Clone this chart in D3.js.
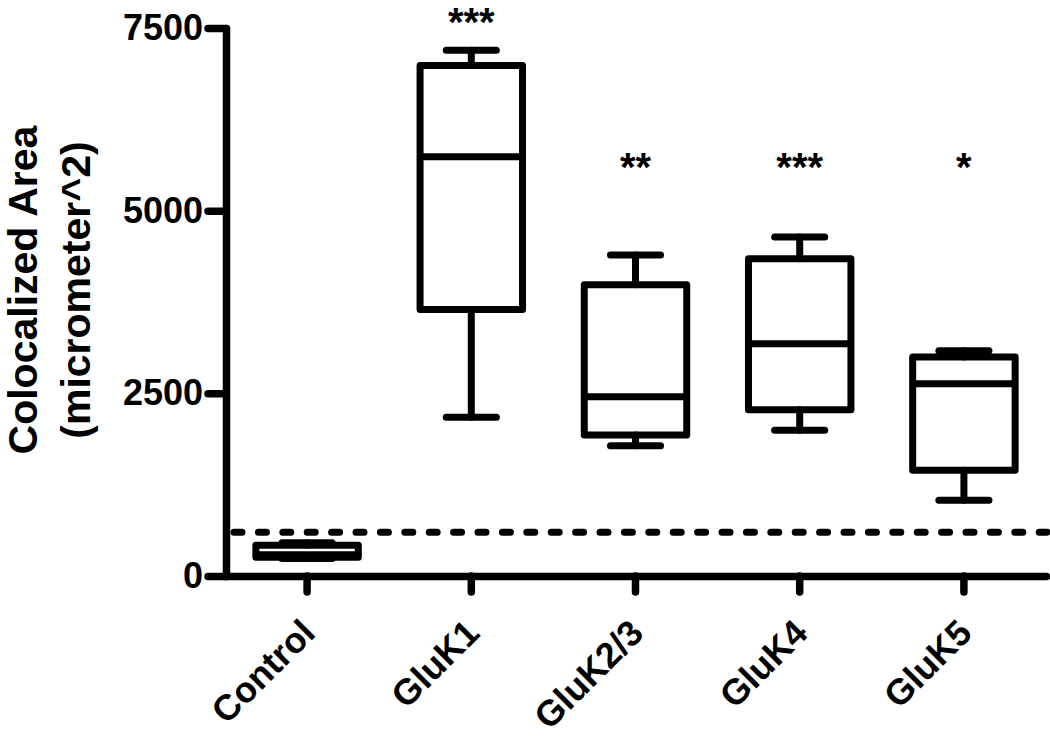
<!DOCTYPE html>
<meta charset="utf-8">
<head>
    <title>Colocalized area box plot</title>
    <script src="https://d3js.org/d3.v7.min.js"></script>
</head>

<style>
body { margin: 0; background: #fff; }
svg { font-family: Arial, "Liberation Sans", sans-serif; font-weight: bold; }
.axis path, .axis line { stroke: #000; stroke-width: 7.5; stroke-linecap: round; stroke-linejoin: round; }
.axis text { fill: #000; font-size: 36px; font-weight: bold; }
.box { fill: none; stroke: #000; stroke-width: 7; stroke-linejoin: round; }
.whisker { stroke: #000; stroke-width: 7; stroke-linecap: round; }
</style>

<body>

<svg></svg>

<script>

// groups and five-number summaries
let categories = ["Control", "GluK1", "GluK2/3", "GluK4", "GluK5"];
let minVals    = [240, 2172, 1782, 1994, 1036];
let q1Vals     = [257, 3647, 1930, 2276, 1446];
let medVals    = [290, 5739, 2454, 3178, 2630];
let q3Vals     = [421, 6986, 3987, 4343, 2997];
let maxVals    = [455, 7194, 4393, 4639, 3084];

// significance marks and the level (in data units) they sit at
let sigLabels = ["", "***", "**", "***", "*"];
let sigLevel  = [0, 7390, 5410, 5410, 5410];

let yTicks = [0, 2500, 5000, 7500];
let threshold = 600;

let width = 1050, height = 736;

let svg = d3.select("svg")
    .attr("width", width)
    .attr("height", height);

let x = d3.scaleBand()
    .domain(categories)
    .range([225, 1046])
    .padding(0);

let y = d3.scaleLinear()
    .domain([0, 7500])
    .range([576, 28]);

let bw = x.bandwidth();
let boxW = bw * 0.624;
let capW = bw * 0.305;
let cx = function(i) { return x(categories[i]) + bw / 2; };

let data = categories.map(function(c, i) {
  return {name: c, min: minVals[i], q1: q1Vals[i], med: medVals[i], q3: q3Vals[i], max: maxVals[i], i: i};
});

// dashed threshold line
svg.append("line")
    .attr("x1", 234)
    .attr("x2", 1047)
    .attr("y1", y(threshold))
    .attr("y2", y(threshold))
    .attr("stroke", "#000")
    .attr("stroke-width", 7)
    .attr("stroke-linecap", "round")
    .attr("stroke-dasharray", "8 16.4");

let g = svg.selectAll(".group")
    .data(data)
    .enter()
    .append("g")
    .attr("class", "group");

// whiskers
g.append("line").attr("class", "whisker")
    .attr("x1", function(d) { return cx(d.i); })
    .attr("x2", function(d) { return cx(d.i); })
    .attr("y1", function(d) { return y(d.q3); })
    .attr("y2", function(d) { return y(d.max); });
g.append("line").attr("class", "whisker")
    .attr("x1", function(d) { return cx(d.i); })
    .attr("x2", function(d) { return cx(d.i); })
    .attr("y1", function(d) { return y(d.q1); })
    .attr("y2", function(d) { return y(d.min); });
g.append("line").attr("class", "whisker")
    .attr("x1", function(d) { return cx(d.i) - capW / 2; })
    .attr("x2", function(d) { return cx(d.i) + capW / 2; })
    .attr("y1", function(d) { return y(d.max); })
    .attr("y2", function(d) { return y(d.max); });
g.append("line").attr("class", "whisker")
    .attr("x1", function(d) { return cx(d.i) - capW / 2; })
    .attr("x2", function(d) { return cx(d.i) + capW / 2; })
    .attr("y1", function(d) { return y(d.min); })
    .attr("y2", function(d) { return y(d.min); });

// boxes
g.append("rect").attr("class", "box")
    .attr("x", function(d) { return cx(d.i) - boxW / 2; })
    .attr("width", boxW)
    .attr("y", function(d) { return y(d.q3); })
    .attr("height", function(d) { return y(d.q1) - y(d.q3); });

// medians
g.append("line")
    .attr("stroke", "#000")
    .attr("stroke-width", 7)
    .attr("x1", function(d) { return cx(d.i) - boxW / 2; })
    .attr("x2", function(d) { return cx(d.i) + boxW / 2; })
    .attr("y1", function(d) { return y(d.med); })
    .attr("y2", function(d) { return y(d.med); });

// significance stars
g.append("text")
    .attr("x", function(d) { return cx(d.i); })
    .attr("y", function(d) { return y(sigLevel[d.i]); })
    .attr("text-anchor", "middle")
    .attr("font-size", "40px")
    .attr("fill", "#000")
    .text(function(d) { return sigLabels[d.i]; });

// y axis
svg.append("g")
    .attr("class", "axis")
    .attr("transform", "translate(226,0)")
    .call(d3.axisLeft(y).tickValues(yTicks).tickSize(18).tickSizeOuter(0).tickPadding(5).tickFormat(d3.format("d")));

// x axis
let xAxis = svg.append("g")
    .attr("class", "axis")
    .attr("transform", "translate(0,576)")
    .call(d3.axisBottom(x).tickSize(16).tickSizeOuter(0));

xAxis.selectAll("text")
    .attr("x", 0)
    .attr("y", 0)
    .attr("dy", 0)
    .attr("text-anchor", "end")
    .attr("transform", "translate(10,59) rotate(-45)");

// y title
let title = svg.append("text")
    .attr("transform", "translate(0,290) rotate(-90)")
    .attr("text-anchor", "middle")
    .attr("font-size", "41px")
    .attr("fill", "#000");
title.append("tspan").attr("x", 0).attr("y", 37).text("Colocalized Area");
title.append("tspan").attr("x", 0).attr("y", 90).text("(micrometer^2)");

</script>

</body>
